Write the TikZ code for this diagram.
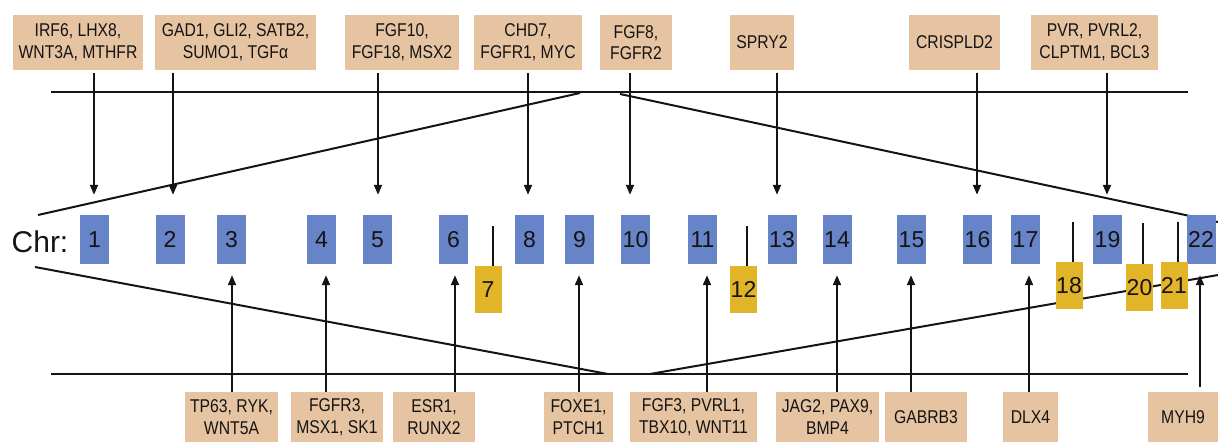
\documentclass[tikz,border=0pt]{standalone}
\usepackage{fontspec}
\setmainfont{Liberation Sans}
\newfontfamily\genefont{Liberation Sans}[FakeStretch=0.85]
\usetikzlibrary{arrows.meta}
\definecolor{tanbox}{RGB}{230,196,162}
\definecolor{chrblue}{RGB}{104,132,200}
\definecolor{chryel}{RGB}{226,180,40}
\definecolor{ink}{RGB}{20,20,20}
\begin{document}
\begin{tikzpicture}[x=1pt,y=-1pt,
  gene/.style={fill=tanbox, inner sep=0pt, align=center, font=\genefont\fontsize{18.5}{21.7}\selectfont, text=ink},
  genetop/.style={gene, minimum height=55pt},
  genebot/.style={gene, minimum height=50pt},
  chrb/.style={fill=chrblue, minimum width=29pt, minimum height=49pt, inner sep=0pt, font=\fontsize{23}{23}\selectfont, text=ink},
  chry/.style={fill=chryel, minimum width=27pt, minimum height=47pt, inner sep=0pt, font=\fontsize{23}{23}\selectfont, text=ink},
  lin/.style={line width=2pt, draw=ink},
  stem/.style={line width=1.8pt, draw=ink},
  arr/.style={lin, -{Triangle[length=10pt,width=8pt]}},
  dnarr/.style={arr, shorten <=3pt, shorten >=20pt},
  uparr/.style={arr, shorten >=11pt},
]
\useasboundingbox (0,0) rectangle (1218,442);

% frame lines
\draw[lin] (51,92) -- (1188,92);
\draw[lin] (51,374) -- (1188,374);
\draw[lin] (580,93) -- (38,215);
\draw[lin] (620,94) -- (1218,222);
\draw[lin] (35,267) -- (608,374);
\draw[lin] (650,374) -- (1218,275);

% label
\node[font=\fontsize{30}{30}\selectfont, text=ink, inner sep=0pt] (chr) at (40,242) {Chr:};

% blue chromosomes
\node[chrb] (c1) at (94.5,239.5) {1};
\node[chrb] (c2) at (170,239.5) {2};
\node[chrb] (c3) at (231.5,239.5) {3};
\node[chrb] (c4) at (321.5,239.5) {4};
\node[chrb] (c5) at (377.5,239.5) {5};
\node[chrb] (c6) at (453.5,239.5) {6};
\node[chrb] (c8) at (529.5,239.5) {8};
\node[chrb] (c9) at (579.5,239.5) {9};
\node[chrb] (c10) at (635.5,239.5) {10};
\node[chrb] (c11) at (702.5,239.5) {11};
\node[chrb] (c13) at (782,239.5) {13};
\node[chrb] (c14) at (837,239.5) {14};
\node[chrb] (c15) at (911.5,239.5) {15};
\node[chrb] (c16) at (977.5,239.5) {16};
\node[chrb] (c17) at (1025.5,239.5) {17};
\node[chrb] (c19) at (1107.5,239.5) {19};
\node[chrb] (c22) at (1201,239.5) {22};

% yellow chromosomes with stems
\node[chry] (c7) at (488,289.5) {7};
\node[chry] (c12) at (743.5,289.5) {12};
\node[chry] (c18) at (1069,285.5) {18};
\node[chry] (c20) at (1139.5,287.5) {20};
\node[chry] (c21) at (1174,285.5) {21};
\coordinate (s7) at (493,226);
\coordinate (s12) at (747,226);
\coordinate (s18) at (1073,222);
\coordinate (s20) at (1143,223);
\coordinate (s21) at (1178,222);
\draw[stem] (s7) -- (s7 |- c7.north);
\draw[stem] (s12) -- (s12 |- c12.north);
\draw[stem] (s18) -- (s18 |- c18.north);
\draw[stem] (s20) -- (s20 |- c20.north);
\draw[stem] (s21) -- (s21 |- c21.north);

% top gene boxes
\node[genetop, minimum width=130pt] (g1) at (78,42.5) {IRF6, LHX8,\\WNT3A, MTHFR};
\node[genetop, minimum width=161pt] (g2) at (235.5,42.5) {GAD1, GLI2, SATB2,\\SUMO1, TGFα};
\node[genetop, minimum width=114pt] (g5) at (402,42.5) {FGF10,\\FGF18, MSX2};
\node[genetop, minimum width=108pt] (g8) at (528,42.5) {CHD7,\\FGFR1, MYC};
\node[genetop, minimum width=72pt] (g10) at (636,42.5) {FGF8,\\FGFR2};
\node[genetop, minimum width=64pt] (g13) at (762,42.5) {SPRY2};
\node[genetop, minimum width=91pt] (g16) at (954.5,42.5) {CRISPLD2};
\node[genetop, minimum width=127pt] (g19) at (1094.5,42.5) {PVR, PVRL2,\\CLPTM1, BCL3};

% bottom gene boxes
\node[genebot, minimum width=93pt] (b3) at (231.5,417) {TP63, RYK,\\WNT5A};
\node[genebot, minimum width=92pt] (b4) at (337,417) {FGFR3,\\MSX1, SK1};
\node[genebot, minimum width=82pt] (b6) at (434,417) {ESR1,\\RUNX2};
\node[genebot, minimum width=69pt] (b9) at (578.5,417) {FOXE1,\\PTCH1};
\node[genebot, minimum width=127pt] (b11) at (693.5,417) {FGF3, PVRL1,\\TBX10, WNT11};
\node[genebot, minimum width=103pt] (b14) at (827.5,417) {JAG2, PAX9,\\BMP4};
\node[genebot, minimum width=82pt] (b15) at (926,417) {GABRB3};
\node[genebot, minimum width=55pt] (b17) at (1030.5,417) {DLX4};
\node[genebot, minimum width=70pt] (b22) at (1183,417) {MYH9};

% arrow x positions
\coordinate (a1) at (94,0);
\coordinate (a2) at (173,0);
\coordinate (a5) at (378,0);
\coordinate (a8) at (528,0);
\coordinate (a10) at (630,0);
\coordinate (a13) at (777,0);
\coordinate (a16) at (977,0);
\coordinate (a19) at (1107,0);
\coordinate (a3) at (232,0);
\coordinate (a4) at (326,0);
\coordinate (a6) at (455,0);
\coordinate (a9) at (579,0);
\coordinate (a11) at (707,0);
\coordinate (a14) at (837,0);
\coordinate (a15) at (911,0);
\coordinate (a17) at (1029,0);
\coordinate (a22) at (1200,0);

% downward arrows
\draw[dnarr] (g1.south -| a1) -- (c1.north -| a1);
\draw[dnarr] (g2.south -| a2) -- (c2.north -| a2);
\draw[dnarr] (g5.south -| a5) -- (c5.north -| a5);
\draw[dnarr] (g8.south -| a8) -- (c8.north -| a8);
\draw[dnarr] (g10.south -| a10) -- (c10.north -| a10);
\draw[dnarr] (g13.south -| a13) -- (c13.north -| a13);
\draw[dnarr] (g16.south -| a16) -- (c16.north -| a16);
\draw[dnarr] (g19.south -| a19) -- (c19.north -| a19);

% upward arrows
\draw[uparr] (b3.north -| a3) -- (c3.south -| a3);
\draw[uparr] (b4.north -| a4) -- (c4.south -| a4);
\draw[uparr] (b6.north -| a6) -- (c6.south -| a6);
\draw[uparr] (b9.north -| a9) -- (c9.south -| a9);
\draw[uparr] (b11.north -| a11) -- (c11.south -| a11);
\draw[uparr] (b14.north -| a14) -- (c14.south -| a14);
\draw[uparr] (b15.north -| a15) -- (c15.south -| a15);
\draw[uparr] (b17.north -| a17) -- (c17.south -| a17);
\draw[uparr, shorten <=5pt] (b22.north -| a22) -- (c22.south -| a22);
\end{tikzpicture}
\end{document}
